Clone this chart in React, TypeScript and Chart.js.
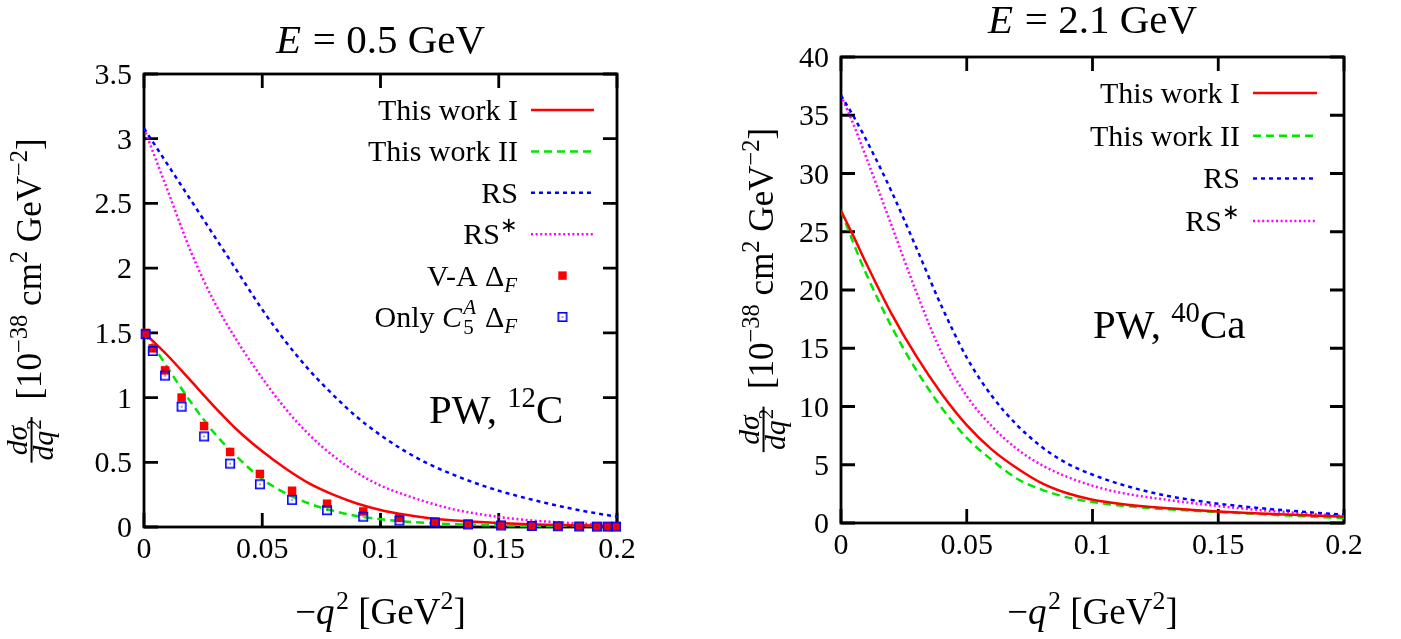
import React, { useEffect, useRef } from "react";
import { Chart, registerables } from "chart.js";

Chart.register(...registerables);

const FAM = "'Liberation Serif', serif";

// ---------------- data ----------------
const q2Grid = [0, 0.005, 0.01, 0.02, 0.03, 0.04, 0.05, 0.06, 0.07, 0.08, 0.09, 0.1, 0.11, 0.12, 0.13, 0.14, 0.15, 0.16, 0.17, 0.18, 0.19, 0.2];

// E = 0.5 GeV, 12C
const c12ThisWorkI = [1.5, 1.415, 1.325, 1.125, 0.925, 0.74, 0.585, 0.45, 0.335, 0.25, 0.182, 0.132, 0.096, 0.07, 0.052, 0.04, 0.03, 0.023, 0.018, 0.014, 0.011, 0.009];
const c12ThisWorkII = [1.5, 1.37, 1.23, 0.96, 0.72, 0.53, 0.37, 0.26, 0.18, 0.125, 0.085, 0.06, 0.043, 0.031, 0.023, 0.017, 0.013, 0.01, 0.008, 0.006, 0.005, 0.004];
const c12RS = [3.08, 2.94, 2.8, 2.52, 2.24, 1.96, 1.68, 1.43, 1.21, 1.02, 0.85, 0.71, 0.59, 0.49, 0.41, 0.34, 0.28, 0.23, 0.185, 0.145, 0.11, 0.08];
const c12RSstar = [3.08, 2.84, 2.6, 2.12, 1.73, 1.42, 1.15, 0.91, 0.71, 0.55, 0.42, 0.32, 0.25, 0.19, 0.14, 0.105, 0.078, 0.057, 0.042, 0.031, 0.022, 0.015];
const c12PointsQ2 = [0.0007, 0.0037, 0.0089, 0.0159, 0.0254, 0.0364, 0.049, 0.0626, 0.0774, 0.0927, 0.108, 0.123, 0.137, 0.151, 0.164, 0.175, 0.184, 0.1915, 0.196, 0.1996];
const c12VA = [1.5, 1.38, 1.21, 1.0, 0.78, 0.58, 0.41, 0.28, 0.18, 0.12, 0.07, 0.04, 0.025, 0.015, 0.01, 0.007, 0.005, 0.004, 0.003, 0.003];
const c12OnlyC5A = [1.49, 1.36, 1.17, 0.93, 0.7, 0.49, 0.33, 0.21, 0.13, 0.08, 0.05, 0.035, 0.02, 0.012, 0.008, 0.006, 0.004, 0.003, 0.003, 0.003];

// E = 2.1 GeV, 40Ca
const ca40ThisWorkI = [26.8, 24.6, 22.3, 18.0, 14.3, 11.1, 8.4, 6.3, 4.7, 3.4, 2.55, 2.0, 1.68, 1.44, 1.26, 1.12, 0.99, 0.88, 0.79, 0.7, 0.62, 0.54];
const ca40ThisWorkII = [26.8, 24.0, 21.4, 16.9, 13.1, 9.9, 7.3, 5.4, 3.8, 2.85, 2.2, 1.8, 1.52, 1.33, 1.18, 1.05, 0.94, 0.83, 0.72, 0.62, 0.52, 0.43];
const ca40RS = [36.7, 34.9, 32.9, 28.5, 23.6, 18.6, 14.2, 10.9, 8.4, 6.5, 5.1, 4.15, 3.4, 2.8, 2.32, 1.96, 1.66, 1.42, 1.21, 1.03, 0.86, 0.72];
const ca40RSstar = [36.7, 34.2, 31.4, 25.6, 19.8, 14.6, 10.9, 8.3, 6.35, 4.95, 3.95, 3.2, 2.65, 2.28, 1.98, 1.7, 1.46, 1.24, 1.05, 0.89, 0.74, 0.6];

// ticks
const xTicks = [0, 0.05, 0.1, 0.15, 0.2];
const xTickLabels = ["0", "0.05", "0.1", "0.15", "0.2"];
const yTicksC12 = [0, 0.5, 1, 1.5, 2, 2.5, 3, 3.5];
const yTickLabelsC12 = ["0", "0.5", "1", "1.5", "2", "2.5", "3", "3.5"];
const yTicksCa40 = [0, 5, 10, 15, 20, 25, 30, 35, 40];
const yTickLabelsCa40 = ["0", "5", "10", "15", "20", "25", "30", "35", "40"];

// ---------------- rich text helpers ----------------
type Run = {
  t: string;
  it?: boolean;
  sup?: boolean;
  sub?: boolean;
  sc?: number;
  stack?: { sup: string; supIt?: boolean; sub: string; subIt?: boolean };
};

function fnt(size: number, it?: boolean) {
  return `${it ? "italic " : ""}${size}px ${FAM}`;
}

function runWidth(ctx: CanvasRenderingContext2D, r: Run, size: number) {
  if (r.stack) {
    ctx.font = fnt(size * 0.7, r.stack.supIt);
    const a = ctx.measureText(r.stack.sup).width;
    ctx.font = fnt(size * 0.7, r.stack.subIt);
    const b = ctx.measureText(r.stack.sub).width;
    return Math.max(a, b) + size * 0.05;
  }
  const s = size * (r.sc ?? (r.sup || r.sub ? 0.7 : 1));
  ctx.font = fnt(s, r.it);
  return ctx.measureText(r.t).width + (r.it ? s * 0.04 : 0);
}

function richWidth(ctx: CanvasRenderingContext2D, runs: Run[], size: number) {
  return runs.reduce((w, r) => w + runWidth(ctx, r, size), 0);
}

function drawRich(
  ctx: CanvasRenderingContext2D,
  runs: Run[],
  x: number,
  y: number,
  size: number,
  align: "left" | "center" | "right"
) {
  const w = richWidth(ctx, runs, size);
  let cx = align === "left" ? x : align === "center" ? x - w / 2 : x - w;
  ctx.textAlign = "left";
  ctx.textBaseline = "alphabetic";
  for (const r of runs) {
    const rw = runWidth(ctx, r, size);
    if (r.stack) {
      ctx.font = fnt(size * 0.7, r.stack.supIt);
      ctx.fillText(r.stack.sup, cx, y - size * 0.42);
      ctx.font = fnt(size * 0.7, r.stack.subIt);
      ctx.fillText(r.stack.sub, cx, y + size * 0.24);
    } else {
      const s = size * (r.sc ?? (r.sup || r.sub ? 0.7 : 1));
      ctx.font = fnt(s, r.it);
      const dy = r.sup ? -size * 0.4 : r.sub ? size * 0.2 : 0;
      ctx.fillText(r.t, cx, y + dy);
    }
    cx += rw;
  }
  return w;
}

function drawYTitle(ctx: CanvasRenderingContext2D, xBase: number, yCenter: number, S: number) {
  const fracS = S * 0.85;
  const num: Run[] = [{ t: "dσ", it: true }];
  const den: Run[] = [{ t: "dq", it: true }, { t: "2", sup: true }];
  const fw = Math.max(richWidth(ctx, num, fracS), richWidth(ctx, den, fracS)) + S * 0.12;
  const rest: Run[] = [
    { t: "[10" },
    { t: "−38", sup: true },
    { t: " cm" },
    { t: "2", sup: true },
    { t: " GeV" },
    { t: "−2", sup: true },
    { t: "]" },
  ];
  const gap = S * 0.5;
  const total = fw + gap + richWidth(ctx, rest, S);
  ctx.save();
  ctx.translate(xBase, yCenter);
  ctx.rotate(-Math.PI / 2);
  const u = -total / 2;
  const bar = -S * 0.27;
  ctx.fillStyle = "#000";
  drawRich(ctx, num, u + fw / 2, bar - S * 0.12, fracS, "center");
  drawRich(ctx, den, u + fw / 2, bar + S * 0.6, fracS, "center");
  ctx.fillRect(u, bar - 1, fw, 2);
  drawRich(ctx, rest, u + fw + gap, 0, S, "left");
  ctx.restore();
}

// ---------------- panels ----------------
type LegendItem = { runs: Run[]; color: string; dash?: number[]; marker?: "rect" | "box" };

type PanelSpec = {
  w: number;
  h: number;
  area: { left: number; right: number; top: number; bottom: number };
  yMax: number;
  yTicks: number[];
  yLabels: string[];
  lines: { data: number[]; color: string; dash: number[] }[];
  points?: { xs: number[]; ys: number[]; kind: "rect" | "box" }[];
  title: Run[];
  titleBase: number;
  legend: LegendItem[];
  legendRight: number;
  legendLine: [number, number];
  legendY0: number;
  legendDy: number;
  note: Run[];
  noteX: number;
  noteY: number;
  yTitleX: number;
};

const TICK_FONT = 30;
const LINE_W = 2.5;

function makeBox(): HTMLCanvasElement {
  const c = document.createElement("canvas");
  c.width = 12;
  c.height = 12;
  const g = c.getContext("2d")!;
  g.strokeStyle = "#0000ff";
  g.lineWidth = 1.6;
  g.strokeRect(1.8, 1.8, 8.4, 8.4);
  g.fillStyle = "#20208a";
  g.fillRect(5.4, 5.4, 1.3, 1.3);
  return c;
}

function buildChart(canvas: HTMLCanvasElement, spec: PanelSpec) {
  const box = makeBox();
  const datasets: any[] = [];
  (spec.points || [])
    .slice()
    .reverse()
    .forEach((p) => {
      datasets.push({
        label: p.kind,
        data: p.xs.map((x, i) => ({ x, y: p.ys[i] })),
        showLine: false,
        pointStyle: p.kind === "box" ? box : "rect",
        pointRadius: 6,
        pointBackgroundColor: "#ff0000",
        pointBorderColor: "#ff0000",
        pointBorderWidth: 0,
        clip: false,
      });
    });
  spec.lines.forEach((l) => {
    datasets.push({
      label: l.color,
      data: q2Grid.map((x, i) => ({ x, y: l.data[i] })),
      showLine: true,
      borderColor: l.color,
      borderWidth: LINE_W,
      borderDash: l.dash,
      pointRadius: 0,
      tension: 0.4,
      cubicInterpolationMode: "monotone",
      fill: false,
    });
  });

  const { area } = spec;
  const X_H = 50;
  const plugin = {
    id: "panelDecor",
    beforeDatasetsDraw(chart: any) {
      const ctx: CanvasRenderingContext2D = chart.ctx;
      const { left, right, top, bottom } = chart.chartArea;
      const xs = chart.scales.x;
      const ys = chart.scales.y;
      ctx.save();
      ctx.strokeStyle = "#000";
      ctx.lineWidth = 2.8;
      ctx.setLineDash([]);
      ctx.strokeRect(left, top, right - left, bottom - top);
      const TL = 14;
      ctx.beginPath();
      xTicks.forEach((v) => {
        const px = xs.getPixelForValue(v);
        ctx.moveTo(px, bottom);
        ctx.lineTo(px, bottom - TL);
        ctx.moveTo(px, top);
        ctx.lineTo(px, top + TL);
      });
      spec.yTicks.forEach((v) => {
        const py = ys.getPixelForValue(v);
        ctx.moveTo(left, py);
        ctx.lineTo(left + TL, py);
        ctx.moveTo(right, py);
        ctx.lineTo(right - TL, py);
      });
      ctx.stroke();
      ctx.fillStyle = "#000";
      ctx.font = fnt(TICK_FONT);
      ctx.textBaseline = "alphabetic";
      ctx.textAlign = "center";
      xTicks.forEach((v, i) => {
        ctx.fillText(xTickLabels[i], xs.getPixelForValue(v), bottom + 31);
      });
      ctx.textAlign = "right";
      spec.yTicks.forEach((v, i) => {
        ctx.fillText(spec.yLabels[i], left - 12, ys.getPixelForValue(v) + 10);
      });
      ctx.restore();
    },
    afterDraw(chart: any) {
      const ctx: CanvasRenderingContext2D = chart.ctx;
      const { left, right, top, bottom } = chart.chartArea;
      ctx.save();
      ctx.fillStyle = "#000";
      drawRich(ctx, spec.title, (left + right) / 2, spec.titleBase, 41, "center");
      drawRich(
        ctx,
        [{ t: "−" }, { t: "q", it: true }, { t: "2", sup: true }, { t: " [GeV" }, { t: "2", sup: true }, { t: "]" }],
        (left + right) / 2,
        624,
        37,
        "center"
      );
      drawYTitle(ctx, spec.yTitleX, (top + bottom) / 2, 35);
      drawRich(ctx, spec.note, spec.noteX, spec.noteY, 41, "left");
      spec.legend.forEach((it, i) => {
        const y = spec.legendY0 + i * spec.legendDy;
        ctx.fillStyle = "#000";
        drawRich(ctx, it.runs, spec.legendRight, y + 10, 30, "right");
        const [x0, x1] = spec.legendLine;
        if (it.marker === "rect") {
          const s = 8.4;
          ctx.fillStyle = it.color;
          ctx.fillRect((x0 + x1) / 2 - s / 2, y - s / 2, s, s);
        } else if (it.marker === "box") {
          ctx.drawImage(box, (x0 + x1) / 2 - box.width / 2, y - box.height / 2);
        } else {
          ctx.save();
          ctx.strokeStyle = it.color;
          ctx.lineWidth = LINE_W;
          ctx.setLineDash(it.dash || []);
          ctx.beginPath();
          ctx.moveTo(x0, y);
          ctx.lineTo(x1, y);
          ctx.stroke();
          ctx.restore();
        }
      });
      ctx.restore();
    },
  };

  return new Chart(canvas, {
    type: "scatter",
    data: { datasets },
    options: {
      animation: false,
      responsive: false,
      events: [],
      layout: {
        padding: {
          left: 0,
          right: spec.w - area.right,
          top: area.top,
          bottom: spec.h - area.bottom - X_H,
        },
      },
      plugins: { legend: { display: false }, tooltip: { enabled: false }, title: { display: false } },
      scales: {
        x: {
          type: "linear",
          min: 0,
          max: 0.2,
          afterBuildTicks: (s: any) => {
            s.ticks = xTicks.map((v) => ({ value: v }));
          },
          afterFit: (s: any) => {
            s.height = X_H;
          },
          ticks: { display: false },
          grid: { display: false, drawTicks: false },
          border: { display: false },
        },
        y: {
          type: "linear",
          min: 0,
          max: spec.yMax,
          afterBuildTicks: (s: any) => {
            s.ticks = spec.yTicks.map((v) => ({ value: v }));
          },
          afterFit: (s: any) => {
            s.width = area.left;
          },
          ticks: { display: false },
          grid: { display: false, drawTicks: false },
          border: { display: false },
        },
      },
    } as any,
    plugins: [plugin],
  });
}

const RED = "#ff0000";
const GREEN = "#00e600";
const BLUE = "#0000ff";
const MAGENTA = "#ff00ff";
const DASH_II = [8, 5];
const DASH_RS = [4, 4];
const DASH_RSS = [2, 2.6];

const legendLines: LegendItem[] = [
  { runs: [{ t: "This work I" }], color: RED, dash: [] },
  { runs: [{ t: "This work II" }], color: GREEN, dash: DASH_II },
  { runs: [{ t: "RS" }], color: BLUE, dash: DASH_RS },
  { runs: [{ t: "RS" }, { t: "∗", sup: true }], color: MAGENTA, dash: DASH_RSS },
];

const leftSpec: PanelSpec = {
  w: 700,
  h: 639,
  area: { left: 144, right: 617, top: 74, bottom: 527 },
  yMax: 3.5,
  yTicks: yTicksC12,
  yLabels: yTickLabelsC12,
  lines: [
    { data: c12ThisWorkI, color: RED, dash: [] },
    { data: c12ThisWorkII, color: GREEN, dash: DASH_II },
    { data: c12RS, color: BLUE, dash: DASH_RS },
    { data: c12RSstar, color: MAGENTA, dash: DASH_RSS },
  ],
  points: [
    { xs: c12PointsQ2, ys: c12VA, kind: "rect" },
    { xs: c12PointsQ2, ys: c12OnlyC5A, kind: "box" },
  ],
  title: [{ t: "E", it: true }, { t: " = 0.5 GeV" }],
  titleBase: 53,
  legend: [
    ...legendLines,
    { runs: [{ t: "V-A " }, { t: "Δ" }, { t: "F", it: true, sub: true }], color: RED, marker: "rect" },
    {
      runs: [
        { t: "Only " },
        { t: "C", it: true },
        { t: "", stack: { sup: "A", supIt: true, sub: "5" } },
        { t: " Δ" },
        { t: "F", it: true, sub: true },
      ],
      color: BLUE,
      marker: "box",
    },
  ],
  legendRight: 518,
  legendLine: [531, 594],
  legendY0: 110,
  legendDy: 41.4,
  note: [{ t: "PW, " }, { t: "12", sup: true }, { t: "C" }],
  noteX: 429,
  noteY: 423,
  yTitleX: 41,
};

const rightSpec: PanelSpec = {
  w: 701,
  h: 639,
  area: { left: 141, right: 644, top: 57, bottom: 523 },
  yMax: 40,
  yTicks: yTicksCa40,
  yLabels: yTickLabelsCa40,
  lines: [
    { data: ca40ThisWorkI, color: RED, dash: [] },
    { data: ca40ThisWorkII, color: GREEN, dash: DASH_II },
    { data: ca40RS, color: BLUE, dash: DASH_RS },
    { data: ca40RSstar, color: MAGENTA, dash: DASH_RSS },
  ],
  title: [{ t: "E", it: true }, { t: " = 2.1 GeV" }],
  titleBase: 33,
  legend: legendLines,
  legendRight: 540,
  legendLine: [553, 617],
  legendY0: 93,
  legendDy: 42.7,
  note: [{ t: "PW, " }, { t: "40", sup: true }, { t: "Ca" }],
  noteX: 393,
  noteY: 338,
  yTitleX: 73,
};

function Panel({ spec, left }: { spec: PanelSpec; left: number }) {
  const ref = useRef<HTMLCanvasElement | null>(null);
  useEffect(() => {
    if (!ref.current) return;
    const chart = buildChart(ref.current, spec);
    return () => chart.destroy();
  }, [spec]);
  return (
    <canvas
      ref={ref}
      width={spec.w}
      height={spec.h}
      style={{ position: "absolute", left, top: 0, width: spec.w, height: spec.h }}
    />
  );
}

export default function App() {
  return (
    <div
      style={{
        position: "fixed",
        left: 0,
        top: 0,
        width: 1401,
        height: 639,
        background: "#fff",
        overflow: "hidden",
      }}
    >
      <Panel spec={leftSpec} left={0} />
      <Panel spec={rightSpec} left={700} />
    </div>
  );
}
